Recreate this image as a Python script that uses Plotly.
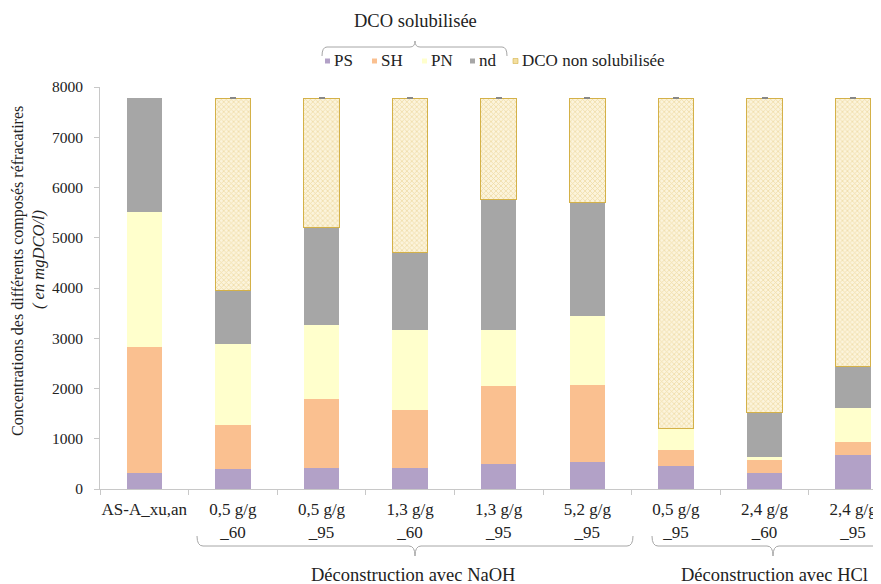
import plotly.graph_objects as go

# ---------------- data ----------------
categories = ["AS-A_xu,an", "NaOH 0,5_60", "NaOH 0,5_95", "NaOH 1,3_60", "NaOH 1,3_95",
              "NaOH 5,2_95", "HCl 0,5_95", "HCl 2,4_60", "HCl 2,4_95"]
tick_labels = ["AS-A_xu,an", "0,5 g/g<br>_60", "0,5 g/g<br>_95", "1,3 g/g<br>_60", "1,3 g/g<br>_95",
               "5,2 g/g<br>_95", "0,5 g/g<br>_95", "2,4 g/g<br>_60", "2,4 g/g<br>_95"]
ps = [310, 400, 420, 420, 505, 535, 450, 320, 670]
sh = [2510, 880, 1370, 1160, 1550, 1525, 320, 265, 260]
pn = [2695, 1610, 1480, 1580, 1115, 1390, 425, 45, 685]
nd = [2265, 1065, 1925, 1545, 2590, 2255, 10, 885, 825]
dco_non = [None, 3825, 2585, 3075, 2020, 2075, 6575, 6265, 5340]
dco_err = [0, 8, 8, 8, 8, 8, 8, 8, 8]

series_names = ["PS", "SH", "PN", "nd"]
series_values = [ps, sh, pn, nd]
series_colors = ["#b2a1c7", "#fac090", "#ffffcc", "#a6a6a6"]

group_labels = ["Déconstruction avec NaOH", "Déconstruction avec HCl"]
top_title = "DCO solubilisée"
legend_labels = ["PS", "SH", "PN", "nd", "DCO non solubilisée"]

# ---------------- layout geometry ----------------
OFF = 8  # page body margin
W, H = 881 - OFF, 584 - OFF
ML, MR, MT, MB = 100 - OFF, 0, 87 - OFF, 95
PW, PH = W - ML - MR, H - MT - MB
FONT = "Liberation Serif"
TXT = "#222222"


def px(x):
    return (x - OFF - ML) / PW


def py(y):
    return (H - MB - (y - OFF)) / PH


fig = go.Figure()
for name, vals, col in zip(series_names, series_values, series_colors):
    fig.add_trace(go.Bar(x=categories, y=vals, name=name, width=0.4,
                         marker=dict(color=col, line=dict(width=0)), showlegend=False))

fig.add_trace(go.Bar(
    x=categories, y=dco_non, name="DCO non solubilisée", width=0.4, showlegend=False,
    marker=dict(color="#fbf0d0", line=dict(color="#d4b148", width=1),
                pattern=dict(shape="x", size=3.5, solidity=0.4, fgcolor="#e2c46e", bgcolor="#fcf4dc")),
    error_y=dict(type="data", array=dco_err, symmetric=True, thickness=1, width=3, color="#888888"),
))

fig.update_layout(
    width=W, height=H, barmode="stack",
    margin=dict(l=ML, r=MR, t=MT, b=MB, pad=0),
    paper_bgcolor="white", plot_bgcolor="white",
    font=dict(family=FONT, color=TXT),
    showlegend=False,
    xaxis=dict(type="category", range=[-0.5, -0.5 + PW / 88.6],
               tickmode="array", tickvals=categories, ticktext=tick_labels, tickangle=0,
               tickson="boundaries", ticks="outside", ticklen=5, tickcolor="#c8c8c8",
               showline=True, linecolor="#c8c8c8", linewidth=1, showgrid=False,
               tickfont=dict(size=17, family=FONT, color=TXT), ticklabelstandoff=5,
               fixedrange=True),
    yaxis=dict(range=[0, 8000], tickvals=[0, 1000, 2000, 3000, 4000, 5000, 6000, 7000, 8000],
               ticks="outside", ticklen=5, tickcolor="#c8c8c8",
               showline=True, linecolor="#c8c8c8", linewidth=1, showgrid=False, zeroline=False,
               tickfont=dict(size=15.5, family=FONT, color=TXT), ticklabelstandoff=8),
)

ann = []
# y axis title (two lines)
ann.append(dict(x=px(18), y=py(271), xref="paper", yref="paper", textangle=-90,
                text="Concentrations des différents composés réfracatires", showarrow=False,
                font=dict(size=16, family=FONT, color=TXT), xanchor="center", yanchor="middle"))
ann.append(dict(x=px(38), y=py(260), xref="paper", yref="paper", textangle=-90,
                text="<i>( en mgDCO/l)</i>", showarrow=False,
                font=dict(size=16.5, family=FONT, color=TXT), xanchor="center", yanchor="middle"))
# top title
ann.append(dict(x=px(415), y=py(21), xref="paper", yref="paper", text=top_title, showarrow=False,
                font=dict(size=18.5, family=FONT, color=TXT), xanchor="center", yanchor="middle"))
# group labels
ann.append(dict(x=px(413), y=py(575), xref="paper", yref="paper", text=group_labels[0], showarrow=False,
                font=dict(size=18.5, family=FONT, color=TXT), xanchor="center", yanchor="middle"))
ann.append(dict(x=px(774), y=py(575), xref="paper", yref="paper", text=group_labels[1], showarrow=False,
                font=dict(size=18.5, family=FONT, color=TXT), xanchor="center", yanchor="middle"))

# manual legend
legend_sq_x = [325, 372, 422, 470, 513]
legend_colors = series_colors + ["#f3dea0"]
shapes = []
for lab, sx, col in zip(legend_labels, legend_sq_x, legend_colors):
    shapes.append(dict(type="rect", xref="paper", yref="paper",
                       x0=px(sx), x1=px(sx + 5), y0=py(63.5), y1=py(58.5),
                       fillcolor=col,
                       line=dict(width=0.6, color="#d4b148") if lab.startswith("DCO") else dict(width=0)))
    ann.append(dict(x=px(sx + 6.5), y=py(61), xref="paper", yref="paper", text=lab, showarrow=False,
                    font=dict(size=17, family=FONT, color=TXT), xanchor="left", yanchor="middle"))


def brace(x0, xc, x1, yend, ymid, ytip, r=6):
    p = (f"M{px(x0)},{py(yend)} Q{px(x0)},{py(ymid)} {px(x0 + r)},{py(ymid)} "
         f"L{px(xc - r)},{py(ymid)} Q{px(xc)},{py(ymid)} {px(xc)},{py(ytip)} "
         f"Q{px(xc)},{py(ymid)} {px(xc + r)},{py(ymid)} "
         f"L{px(x1 - r)},{py(ymid)} Q{px(x1)},{py(ymid)} {px(x1)},{py(yend)}")
    return dict(type="path", xref="paper", yref="paper", path=p,
                line=dict(color="#a6a6a6", width=1))


shapes.append(brace(197, 415, 633, 536, 546, 556))
shapes.append(brace(652, 773, 894, 536, 546, 556))
shapes.append(brace(322, 415, 507, 56, 47, 41, r=5))

fig.update_layout(annotations=ann, shapes=shapes)
fig.write_html("out.html")
